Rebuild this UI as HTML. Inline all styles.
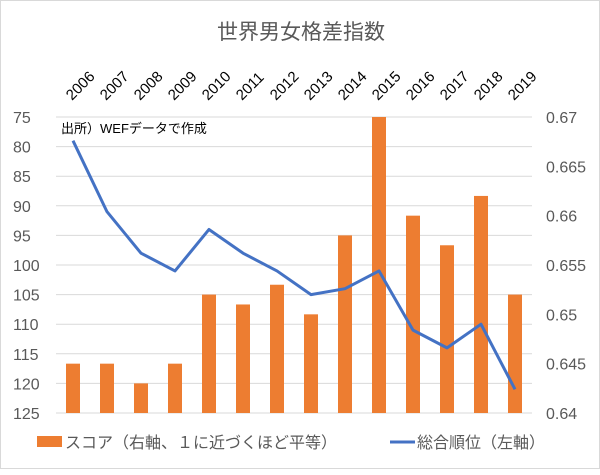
<!DOCTYPE html>
<html><head><meta charset="utf-8"><style>
body{margin:0;background:#fff;}
#c{position:relative;width:600px;height:469px;background:#fff;border:1px solid #d9d9d9;box-sizing:border-box;font-family:"Liberation Sans","Noto Sans CJK JP",sans-serif;}
</style></head><body>
<div id="c">
<svg id="s" width="600" height="469"></svg>
</div>
<script>
const years=["2006","2007","2008","2009","2010","2011","2012","2013","2014","2015","2016","2017","2018","2019"];
const scores=[0.645,0.645,0.643,0.645,0.652,0.651,0.653,0.650,0.658,0.670,0.660,0.657,0.662,0.652];
const ranks=[79,91,98,101,94,98,101,105,104,101,111,114,110,121];
const leftTicks=[75,80,85,90,95,100,105,110,115,120,125];
const rightTicks=["0.64","0.645","0.65","0.655","0.66","0.665","0.67"];
const NS="http://www.w3.org/2000/svg";
const svg=document.getElementById('s');
const X0=55,X1=531,Y0=116,Y1=412;
const bw=(X1-X0)/years.length;
const xc=i=>X0+bw*(i+0.5);
const yL=v=>Y0+(v-75)/50*(Y1-Y0);
const yR=v=>Y1-(v-0.64)/0.03*(Y1-Y0);
function el(t,a,txt){const e=document.createElementNS(NS,t);for(const k in a)e.setAttribute(k,a[k]);if(txt!=null)e.textContent=txt;svg.appendChild(e);return e;}
let t=el('text',{x:300,y:38,'text-anchor':'middle','font-size':21,fill:'#595959'},'世界男女格差指数');


leftTicks.forEach(v=>{
  const g=el('line',{x1:X0,x2:X1,y1:yL(v),y2:yL(v),stroke:'#d9d9d9','stroke-width':1});
  
  
  const l=el('text',{x:12,y:yL(v)+6,'font-size':16,fill:'#595959'},v);
  
  
});
rightTicks.forEach(v=>{
  const l=el('text',{x:545,y:yR(+v)+6,'font-size':16,fill:'#595959'},v);
  
  
});
years.forEach((y,i)=>{
  const ax=xc(i)-1, ay=100;
  const l=el('text',{x:ax,y:ay,'font-size':15,fill:'#000',transform:`rotate(-45 ${ax} ${ay})`},y);
  
  
});
scores.forEach((v,i)=>{
  const b=el('rect',{x:xc(i)-7,y:yR(v),width:14,height:Y1-yR(v),fill:'#ed7d31'});
  
  
});
const pts=ranks.map((v,i)=>xc(i)+','+yL(v)).join(' ');
const pl=el('polyline',{points:pts,fill:'none',stroke:'#4472c4','stroke-width':3,'stroke-linejoin':'round'});


const n=el('text',{x:60,y:132,'font-size':13,fill:'#000'},'出所）WEFデータで作成');


const r1=el('rect',{x:36,y:435,width:25,height:11,fill:'#ed7d31'});


const t1=el('text',{x:64,y:447,'font-size':16,fill:'#595959'},'スコア（右軸、１に近づくほど平等）');


const r2=el('line',{x1:389,x2:414,y1:441,y2:441,stroke:'#4472c4','stroke-width':3});


const t2=el('text',{x:416,y:447,'font-size':16,fill:'#595959'},'総合順位（左軸）');


</script>
</body></html>
